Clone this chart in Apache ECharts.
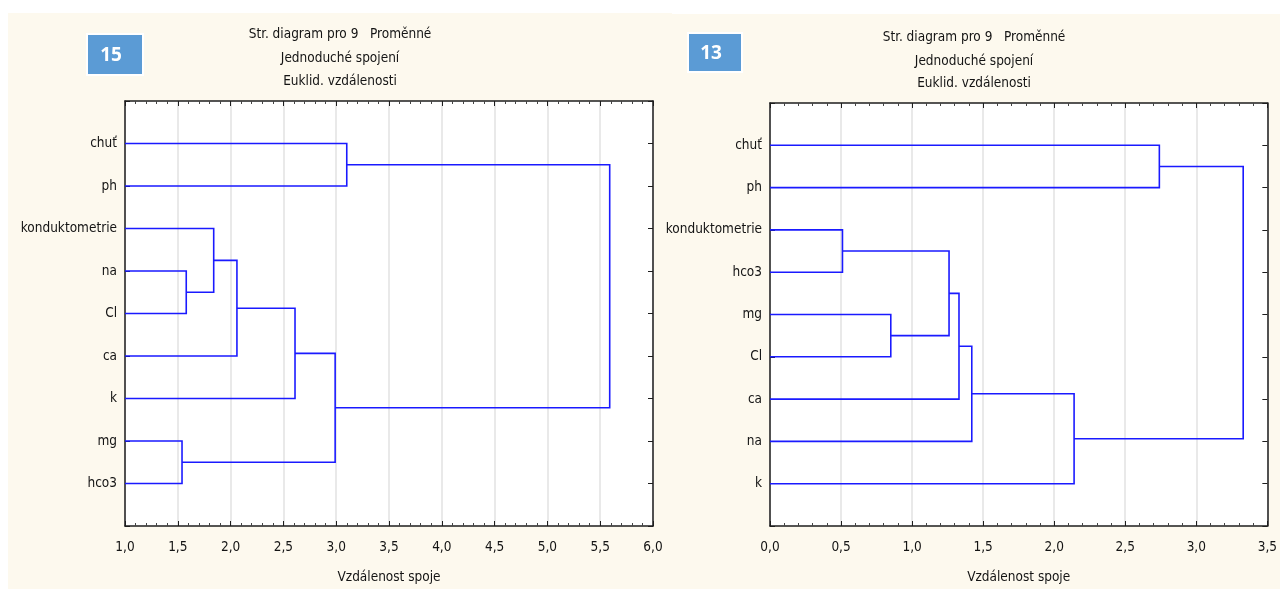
<!DOCTYPE html>
<html>
<head>
<meta charset="utf-8">
<title>Str. diagram pro 9 Proměnné</title>
<script src="https://cdn.jsdelivr.net/npm/echarts@6/dist/echarts.min.js"></script>
<style>
  html, body { margin: 0; padding: 0; background: #ffffff; }
  #chart { width: 1280px; height: 589px; }
</style>
</head>
<body>
<div id="chart"></div>
<script>
// Chart titles (shared by both dendrograms)
const titleLines = ['Str. diagram pro 9   Proměnné', 'Jednoduché spojení', 'Euklid. vzdálenosti'];
const axisName = 'Vzdálenost spoje';

// Dendrogram 15: leaf order (top to bottom) and merges [childA, childB, linkage distance]
// leaves are 0..8, merged clusters get ids 9, 10, ...
const leaves15 = ['chuť', 'ph', 'konduktometrie', 'na', 'Cl', 'ca', 'k', 'mg', 'hco3'];
const merges15 = [
  [3, 4, 1.58],   // 9  na + Cl
  [7, 8, 1.54],   // 10 mg + hco3
  [2, 9, 1.84],   // 11 konduktometrie + (na, Cl)
  [11, 5, 2.06],  // 12 + ca
  [12, 6, 2.61],  // 13 + k
  [13, 10, 2.99], // 14 + (mg, hco3)
  [0, 1, 3.10],   // 15 chuť + ph
  [15, 14, 5.59]  // 16 root
];
const xTicks15 = { min: 1.0, max: 6.0, step: 0.5 };

// Dendrogram 13
const leaves13 = ['chuť', 'ph', 'konduktometrie', 'hco3', 'mg', 'Cl', 'ca', 'na', 'k'];
const merges13 = [
  [2, 3, 0.51],   // 9  konduktometrie + hco3
  [4, 5, 0.85],   // 10 mg + Cl
  [9, 10, 1.26],  // 11
  [11, 6, 1.33],  // 12 + ca
  [12, 7, 1.42],  // 13 + na
  [13, 8, 2.14],  // 14 + k
  [0, 1, 2.74],   // 15 chuť + ph
  [15, 14, 3.33]  // 16 root
];
const xTicks13 = { min: 0.0, max: 3.5, step: 0.5 };

const badgeLabels = ['15', '13'];

// Build the U-shaped links of a dendrogram in data coordinates
function dendrogramLinks(leaves, merges, base) {
  const yPos = leaves.map((_, i) => i + 1);
  const height = leaves.map(() => base);
  const links = [];
  merges.forEach(([a, b, h]) => {
    links.push({
      coords: [[height[a], yPos[a]], [h, yPos[a]], [h, yPos[b]], [height[b], yPos[b]]]
    });
    yPos.push((yPos[a] + yPos[b]) / 2);
    height.push(h);
  });
  return links;
}

const FONT = '"Liberation Sans Narrow", "DejaVu Sans Condensed", Arial, sans-serif';
const FONT_SIZE = 13.5;
const AXIS_COLOR = '#1e1e1e';
const TEXT_COLOR = '#141414';
const LINK_COLOR = '#1a1aff';
const fmt = v => v.toFixed(1).replace('.', ',');

const panels = [
  { leaves: leaves15, merges: merges15, ticks: xTicks15,
    grid: { left: 125, top: 101, width: 528, height: 431 } },
  { leaves: leaves13, merges: merges13, ticks: xTicks13,
    grid: { left: 770, top: 103, width: 501, height: 429 } }
];

const grids = [], xAxes = [], yAxes = [], series = [];
panels.forEach((p, k) => {
  grids.push(Object.assign({ show: true, backgroundColor: '#ffffff', borderWidth: 0 }, p.grid));
  const lineStyle = { color: AXIS_COLOR, width: 1.5 };
  // bottom value axis
  xAxes.push({
    type: 'value', gridIndex: k, position: 'bottom',
    min: p.ticks.min, max: p.ticks.max, interval: p.ticks.step,
    axisLine: { show: true, onZero: false, lineStyle },
    axisTick: { show: true, inside: true, length: 5, lineStyle: { color: AXIS_COLOR } },
    minorTick: { show: true, splitNumber: 5, length: 3, lineStyle: { color: '#444' } },
    splitLine: { show: true, lineStyle: { color: '#e2e2e2', width: 1.5 } },
    axisLabel: { formatter: fmt, color: TEXT_COLOR, fontFamily: FONT, fontSize: FONT_SIZE, margin: 14 },
    name: axisName, nameLocation: 'middle', nameGap: 44,
    nameTextStyle: { color: TEXT_COLOR, fontFamily: FONT, fontSize: FONT_SIZE }
  });
  // top mirror axis (frame with ticks)
  xAxes.push({
    type: 'value', gridIndex: k, position: 'top',
    min: p.ticks.min, max: p.ticks.max, interval: p.ticks.step,
    axisLine: { show: true, onZero: false, lineStyle },
    axisTick: { show: true, inside: true, length: 5, lineStyle: { color: AXIS_COLOR } },
    minorTick: { show: true, splitNumber: 5, length: 3, lineStyle: { color: '#444' } },
    splitLine: { show: false }, axisLabel: { show: false }
  });
  const leaves = p.leaves;
  yAxes.push({
    type: 'value', gridIndex: k, position: 'left', inverse: true,
    min: 0, max: leaves.length + 1, interval: 1,
    axisLine: { show: true, onZero: false, lineStyle },
    axisTick: { show: true, inside: true, length: 5, lineStyle: { color: AXIS_COLOR } },
    splitLine: { show: false },
    axisLabel: {
      color: TEXT_COLOR, fontFamily: FONT, fontSize: FONT_SIZE, margin: 8,
      formatter: v => (v >= 1 && v <= leaves.length) ? leaves[v - 1] : ''
    }
  });
  yAxes.push({
    type: 'value', gridIndex: k, position: 'right', inverse: true,
    min: 0, max: leaves.length + 1, interval: 1,
    axisLine: { show: true, onZero: false, lineStyle },
    axisTick: { show: true, inside: true, length: 5, lineStyle: { color: AXIS_COLOR } },
    splitLine: { show: false }, axisLabel: { show: false }
  });
  series.push({
    type: 'lines', coordinateSystem: 'cartesian2d', polyline: true,
    xAxisIndex: 2 * k, yAxisIndex: 2 * k,
    silent: true,
    lineStyle: { color: LINK_COLOR, width: 1.6, opacity: 1 },
    data: dendrogramLinks(leaves, p.merges, p.ticks.min)
  });
});

// Panel backgrounds, badges and titles
const CREAM = '#fdf9ee';
const graphic = [
  { type: 'rect', z: -10, shape: { x: 8, y: 13, width: 664, height: 576 }, style: { fill: CREAM } },
  { type: 'rect', z: -10, shape: { x: 668, y: 14, width: 612, height: 575 }, style: { fill: CREAM } }
];
const badgeBoxes = [
  { x: 87, y: 34, width: 56, height: 41 },
  { x: 688, y: 33, width: 54, height: 39 }
];
badgeBoxes.forEach((b, i) => {
  graphic.push({
    type: 'rect', z: 10, shape: b,
    style: { fill: '#5b9bd5', stroke: '#ffffff', lineWidth: 2 }
  });
  graphic.push({
    type: 'text', z: 11, x: b.x + b.width / 2 - 4, y: b.y + b.height / 2 + 1,
    style: {
      text: badgeLabels[i], fill: '#ffffff', font: 'bold 19px "Open Sans", "Liberation Sans", sans-serif',
      textAlign: 'center', textVerticalAlign: 'middle'
    }
  });
});
const titleCenters = [{ x: 340, y: [34, 58, 81] }, { x: 974, y: [37, 61, 83] }];
titleCenters.forEach(c => {
  titleLines.forEach((t, j) => {
    graphic.push({
      type: 'text', z: 11, x: c.x, y: c.y[j],
      style: {
        text: t, fill: TEXT_COLOR, font: FONT_SIZE + 'px ' + FONT,
        textAlign: 'center', textVerticalAlign: 'middle'
      }
    });
  });
});

const chart = echarts.init(document.getElementById('chart'), null, { renderer: 'canvas' });
chart.setOption({
  animation: false,
  backgroundColor: '#ffffff',
  grid: grids,
  xAxis: xAxes,
  yAxis: yAxes,
  series: series,
  graphic: graphic
});
</script>
</body>
</html>
